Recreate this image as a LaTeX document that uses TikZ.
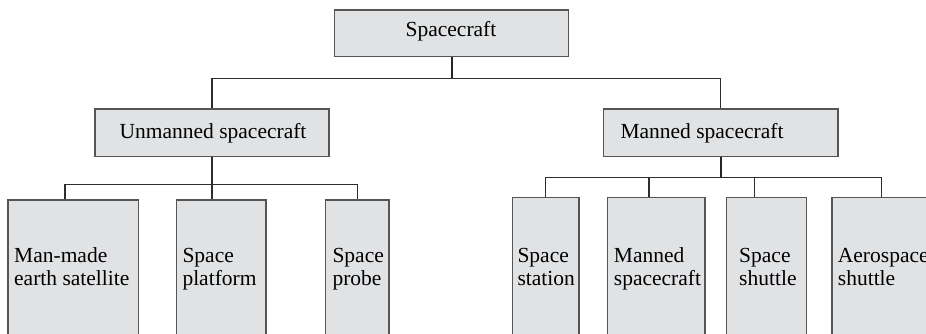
\documentclass[tikz,border=0pt]{standalone}
\usepackage{fontspec}
\setmainfont{Liberation Serif}
\definecolor{boxfill}{RGB}{225,226,228}
\definecolor{boxline}{RGB}{85,85,85}
\definecolor{wire}{RGB}{45,45,45}
\begin{document}
\begin{tikzpicture}[x=1pt,y=-1pt,
  box/.style={draw=boxline,line width=1.3pt,fill=boxfill,rectangle,inner sep=0pt,anchor=north west},
  txt/.style={inner sep=0pt,font=\fontsize{21.5}{23}\selectfont},
  lbl/.style={txt,anchor=base west,align=left},
  wirel/.style={draw=wire,line width=1.2pt},
  stem/.style={draw=black!85,line width=2pt}]
\useasboundingbox (0,0) rectangle (926,333);
\clip (0,0) rectangle (926,333);

% root
\node[box,minimum width=234pt,minimum height=46.3pt] (sc) at (334,9.3) {};
\node[txt,anchor=base] (tsc) at (451,36.5) {Spacecraft};

% second level
\node[box,minimum width=234pt,minimum height=47.7pt] (um) at (94.3,108.3) {};
\node[txt,anchor=base] (tum) at (213,138) {Unmanned spacecraft};
\node[box,minimum width=234.3pt,minimum height=47.7pt] (mn) at (603,108.3) {};
\node[lbl] (tmn) at (620.3,138) {Manned spacecraft};

% leaves, unmanned branch
\node[box,minimum width=130.7pt,minimum height=150pt] (l1) at (7.3,199.3) {};
\node[box,minimum width=89.6pt,minimum height=150pt] (l2) at (175.7,199.3) {};
\node[box,minimum width=63.6pt,minimum height=150pt] (l3) at (324.7,199.3) {};
\node[lbl] (t1) at (14,285.3) {Man-made\\earth satellite};
\node[lbl] (t2) at (182.3,285.3) {Space\\platform};
\node[lbl] (t3) at (332.3,285.3) {Space\\probe};

% leaves, manned branch
\node[box,minimum width=66.3pt,minimum height=150pt] (l4) at (512,196.7) {};
\node[box,minimum width=97.3pt,minimum height=150pt] (l5) at (607,196.7) {};
\node[box,minimum width=80pt,minimum height=150pt] (l6) at (725.5,196.7) {};
\node[box,minimum width=120pt,minimum height=150pt] (l7) at (831.3,196.7) {};
\node[lbl] (t4) at (517.3,285.3) {Space\\station};
\node[lbl] (t5) at (613.7,285.3) {Manned\\spacecraft};
\node[lbl] (t6) at (739,285.3) {Space\\shuttle};
\node[lbl] (t7) at (837.7,285.3) {Aerospace\\shuttle};

% junction points of the buses
\coordinate (b0) at (451,78.7);
\coordinate (b1) at (211,184.3);
\coordinate (b2) at (720,177.3);

% root to second level
\draw[stem] (sc.south) -- (sc.south |- b0);
\draw[wirel] (um.north) |- (b0) -| (mn.north);

% unmanned branch
\draw[wirel] (um.south) -- (um.south |- l2.north);
\draw[wirel] ([xshift=57.7pt]l1.north west) |- (b1) -| ([xshift=33pt]l3.north west);

% manned branch
\draw[stem,line width=1.6pt] (mn.south) -- (mn.south |- b2);
\draw[wirel] (l4.north) |- (b2) -| ([xshift=50.4pt]l7.north west);
\draw[wirel] ([xshift=42pt]l5.north west) -- ([xshift=42pt]l5.north west |- b2);
\draw[wirel] ([xshift=29.2pt]l6.north west) -- ([xshift=29.2pt]l6.north west |- b2);
\end{tikzpicture}
\end{document}
